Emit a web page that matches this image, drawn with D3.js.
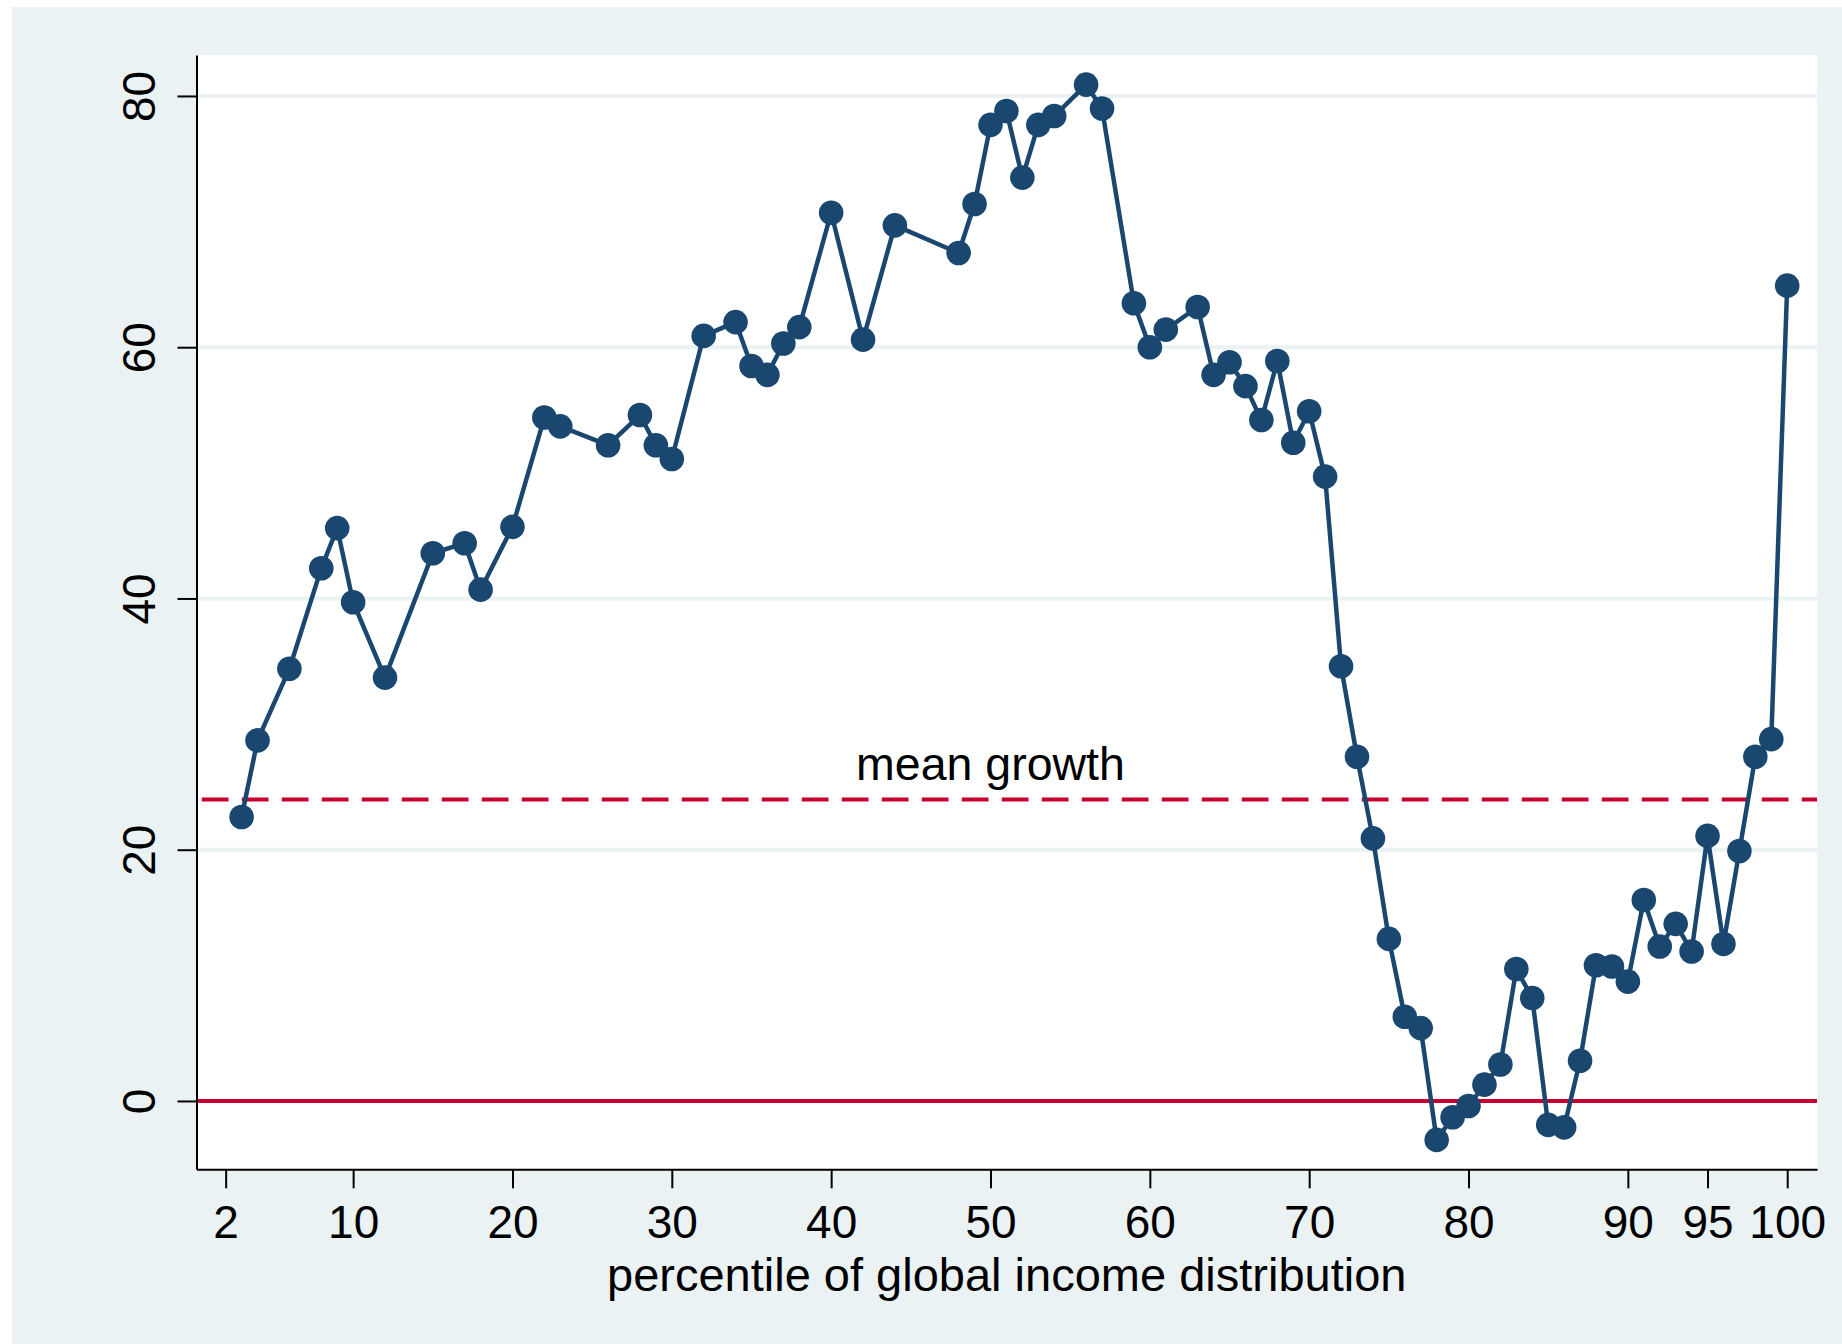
<!DOCTYPE html>
<html>
<head>
<meta charset="utf-8">
<script src="https://cdn.jsdelivr.net/npm/d3@7"></script>
<style>
  html, body { margin: 0; padding: 0; background: #ffffff; }
  svg { display: block; }
  text { font-family: "Liberation Sans", Arial, Helvetica, sans-serif; fill: #000; }
</style>
</head>
<body>
<svg id="chart" width="1842" height="1344"></svg>
<script>
// ---- data ----
const percentiles = [3,4,6,8,9,10,12,15,17,18,20,22,23,26,28,29,30,32,34,35,36,37,38,40,42,44,48,49,50,51,52,53,54,56,57,59,60,61,63,64,65,66,67,68,69,70,71,72,73,74,75,76,77,78,79,80,81,82,83,84,85,86,87,88,89,90,91,92,93,94,95,96,97,98,99,100];
const growth = [22.6,28.7,34.4,42.4,45.6,39.7,33.7,43.6,44.4,40.7,45.7,54.4,53.7,52.2,54.6,52.2,51.1,60.9,62.0,58.5,57.8,60.3,61.6,70.7,60.6,69.7,67.5,71.4,77.7,78.8,73.5,77.7,78.4,80.9,79.0,63.5,60.0,61.4,63.2,57.8,58.8,56.9,54.2,58.9,52.4,54.9,49.7,34.6,27.4,20.9,12.9,6.7,5.8,-3.1,-1.3,-0.4,1.3,2.9,10.5,8.2,-1.9,-2.1,3.2,10.8,10.7,9.5,16.0,12.3,14.1,11.9,21.1,12.5,19.9,27.4,28.8,64.9];
const xTicks = [2,10,20,30,40,50,60,70,80,90,95,100];
const yTicks = [0,20,40,60,80];
const gridValues = [20,40,60,80];
const meanGrowth = 24;
const meanLabel = "mean growth";
const meanLabelX = 50;
const xTitle = "percentile of global income distribution";

// ---- layout ----
const W = 1842, H = 1344;
const plot = { left: 196.5, right: 1817, top: 55, bottom: 1169.3 };
const navy = "#1a476f", red = "#c80030", bg = "#eaf2f3";

const svg = d3.select("#chart");

// graph region background
svg.append("rect").attr("x", 12).attr("y", 7).attr("width", W - 12).attr("height", H - 7).attr("fill", bg);
// plot region
svg.append("rect").attr("x", plot.left).attr("y", plot.top)
  .attr("width", plot.right - plot.left).attr("height", plot.bottom - plot.top).attr("fill", "#ffffff");

const x = d3.scaleLinear().domain([0.17, 101.87]).range([plot.left, plot.right]);
const y = d3.scaleLinear().domain([-5.44, 83.26]).range([plot.bottom, plot.top]);

// gridlines
svg.append("g").selectAll("line").data(gridValues).join("line")
  .attr("x1", plot.left).attr("x2", plot.right)
  .attr("y1", d => y(d)).attr("y2", d => y(d))
  .attr("stroke", bg).attr("stroke-width", 4);

// zero line
svg.append("line").attr("x1", plot.left).attr("x2", plot.right)
  .attr("y1", y(0)).attr("y2", y(0))
  .attr("stroke", red).attr("stroke-width", 4);

// mean growth dashed line
svg.append("line").attr("x1", plot.left).attr("x2", plot.right)
  .attr("y1", y(meanGrowth)).attr("y2", y(meanGrowth))
  .attr("stroke", red).attr("stroke-width", 4)
  .attr("stroke-dasharray", "26.7 13.3").attr("stroke-dashoffset", 34.7);

svg.append("text").attr("x", x(meanLabelX)).attr("y", y(meanGrowth) - 19)
  .attr("text-anchor", "middle").attr("font-size", 46.5).text(meanLabel);

// axes
const yAxis = d3.axisLeft(y).tickValues(yTicks).tickSize(19).tickSizeOuter(0).tickFormat(d3.format("d"));
const gy = svg.append("g").attr("transform", `translate(${plot.left},0)`).call(yAxis);
gy.select(".domain").attr("stroke", "#000").attr("stroke-width", 2);
gy.selectAll(".tick line").attr("stroke", "#000").attr("stroke-width", 2);
gy.selectAll(".tick text")
  .attr("font-size", 46)
  .attr("text-anchor", "middle")
  .attr("x", null).attr("dy", null)
  .attr("transform", "translate(-41.5,0) rotate(-90)");

const xAxis = d3.axisBottom(x).tickValues(xTicks).tickSize(19).tickSizeOuter(0).tickFormat(d3.format("d"));
const gx = svg.append("g").attr("transform", `translate(0,${plot.bottom})`).call(xAxis);
gx.select(".domain").attr("stroke", "#000").attr("stroke-width", 2);
gx.selectAll(".tick line").attr("stroke", "#000").attr("stroke-width", 2);
gx.selectAll(".tick text").attr("font-size", 46).attr("dy", null).attr("y", 69);

// axis title
svg.append("text").attr("x", (plot.left + plot.right) / 2).attr("y", 1291)
  .attr("text-anchor", "middle").attr("font-size", 47).text(xTitle);

// series
const pts = percentiles.map((p, i) => [p, growth[i]]);
svg.append("path").datum(pts)
  .attr("fill", "none").attr("stroke", navy).attr("stroke-width", 4.5).attr("stroke-linejoin", "round")
  .attr("d", d3.line().x(d => x(d[0])).y(d => y(d[1])));
svg.append("g").selectAll("circle").data(pts).join("circle")
  .attr("cx", d => x(d[0])).attr("cy", d => y(d[1])).attr("r", 12.3).attr("fill", navy);
</script>
</body>
</html>
